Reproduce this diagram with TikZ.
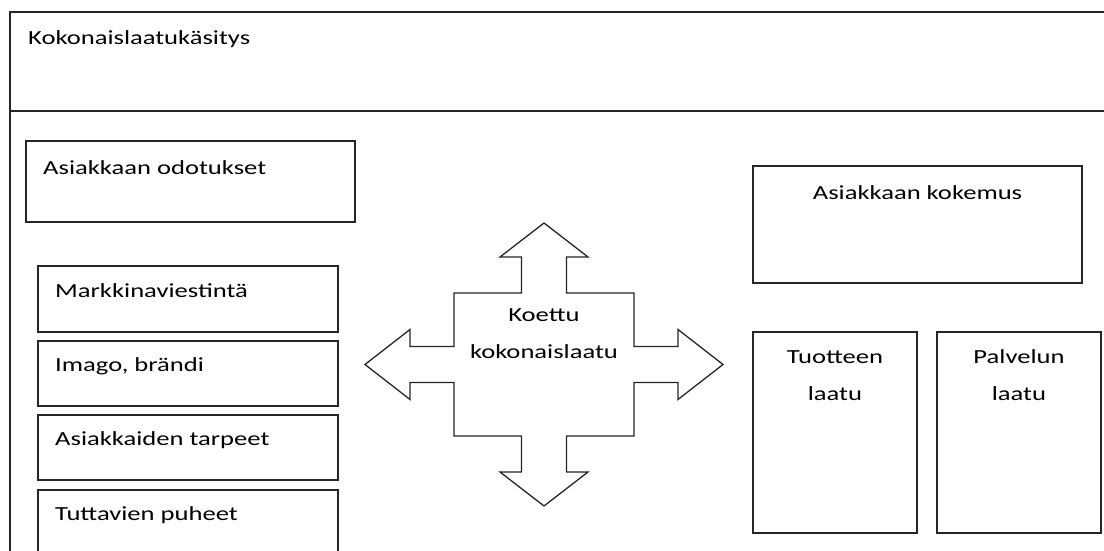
\documentclass[tikz,border=0pt]{standalone}
\usepackage{fontspec}
\setmainfont{Carlito}[FakeStretch=1.33]
\usepackage{tikz}
\usetikzlibrary{positioning}
\tikzstyle{box}        = [rectangle, draw=black!85, line width=1.3pt, anchor=north west, inner sep=0pt, outer sep=0pt]
\tikzstyle{boxtext}    = [anchor=base west, inner sep=0pt, font=\fontsize{20}{24}\selectfont]
\tikzstyle{centertext} = [anchor=base, inner sep=0pt, align=center, font=\fontsize{20}{37}\selectfont]
\tikzstyle{outline}    = [draw=black!85, line width=1.3pt]

\begin{document}
\begin{tikzpicture}[x=1pt, y=-1pt, node distance=9pt]
    \clip (0,0) rectangle (1104,551);
    \fill[white] (0,0) rectangle (1104,551);

    % Nodes
    %% Outer frame
    \node (header)      [box, minimum width=1110pt, minimum height=99pt]  at (10,12)  {};
    \node (body)        [box, minimum width=1110pt, minimum height=500pt] at (10,111) {};
    \node (title)       [boxtext] at ([xshift=18pt, yshift=-33pt]header.north west) {Kokonaislaatukäsitys};
    %% Left branch
    \node (odotukset)   [box, minimum width=329pt, minimum height=81pt] at (26,141) {};
    \node (mviestinta)  [box, minimum width=300pt, minimum height=66pt] at (38,266) {};
    \node (imago)       [box, minimum width=300pt, minimum height=65pt, below=of mviestinta.south west, anchor=north west] {};
    \node (tarpeet)     [box, minimum width=300pt, minimum height=65pt, below=of imago.south west, anchor=north west]      {};
    \node (puheet)      [box, minimum width=300pt, minimum height=90pt, below=10pt of tarpeet.south west, anchor=north west] {};
    \node (t_odotukset) [boxtext] at ([xshift=17pt, yshift=-33pt]odotukset.north west)  {Asiakkaan odotukset};
    \node (t_mv)        [boxtext] at ([xshift=17pt, yshift=-31pt]mviestinta.north west) {Markkinaviestintä};
    \node (t_imago)     [boxtext] at ([xshift=17pt, yshift=-30pt]imago.north west)      {Imago, brändi};
    \node (t_tarpeet)   [boxtext] at ([xshift=17pt, yshift=-30pt]tarpeet.north west)    {Asiakkaiden tarpeet};
    \node (t_puheet)    [boxtext] at ([xshift=17pt, yshift=-30pt]puheet.north west)     {Tuttavien puheet};
    %% Right branch
    \node (kokemus)     [box, minimum width=329pt, minimum height=117pt] at (753,166) {};
    \node (tuote)       [box, minimum width=164pt, minimum height=201pt] at (753,332) {};
    \node (palvelu)     [box, minimum width=164pt, minimum height=201pt, right=20pt of tuote.north east, anchor=north west] {};
    \node (t_kokemus)   [centertext] at ([yshift=-33pt]kokemus.north) {Asiakkaan kokemus};
    \node (t_tuote)     [centertext] at ([yshift=-68pt]tuote.north)   {Tuotteen\\laatu};
    \node (t_palvelu)   [centertext] at ([yshift=-68pt]palvelu.north) {Palvelun\\laatu};
    %% Cross arrow
    \node (koettu)      [centertext] at (544,358) {Koettu\\kokonaislaatu};

    % Arrows
    \draw [outline] (544,223) -- (588,257) -- (566.5,257) -- (566.5,293) -- (634,293) -- (634,346.5)
        -- (678,346.5) -- (678,329.5) -- (723,364.5) -- (678,399.5) -- (678,382.5) -- (634,382.5)
        -- (634,436) -- (566.5,436) -- (566.5,472) -- (588,472) -- (544,506) -- (500,472)
        -- (521.5,472) -- (521.5,436) -- (454,436) -- (454,382.5) -- (410,382.5) -- (410,399.5)
        -- (365,364.5) -- (410,329.5) -- (410,346.5) -- (454,346.5) -- (454,293) -- (521.5,293)
        -- (521.5,257) -- (500,257) -- cycle;
\end{tikzpicture}
\end{document}
